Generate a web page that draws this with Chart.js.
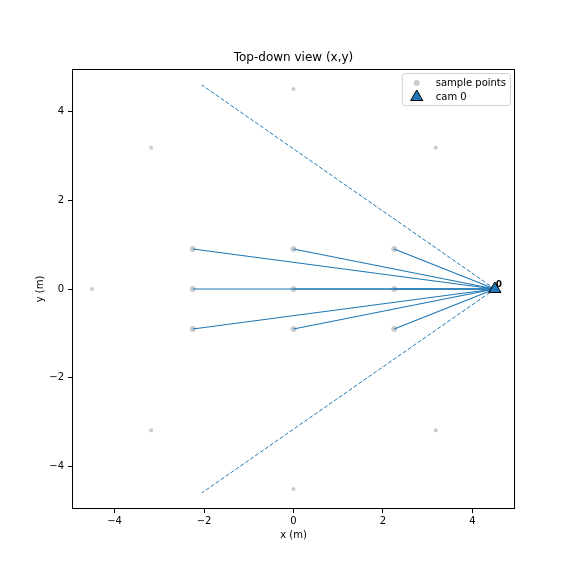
<!DOCTYPE html>
<html lang="en">
<head>
    <meta charset="UTF-8">
    <title>Top-down view (x,y)</title>
    <script src="https://cdn.jsdelivr.net/npm/chart.js"></script>
    <style>
        body { margin: 0; background: #ffffff; }
        canvas { display: block; }
    </style>
</head>
<body>
    <canvas id="topDown" width="573" height="573"></canvas>
    <script>
        // sample points: outer ring + inner grid
        const ringX = [4.5, 3.18, 0, -3.18, -4.5, -3.18, 0, 3.18];
        const ringY = [0, 3.18, 4.5, 3.18, 0, -3.18, -4.5, -3.18];
        const gridX = [-2.25, 0, 2.25, -2.25, 0, 2.25, -2.25, 0, 2.25];
        const gridY = [0.9, 0.9, 0.9, 0, 0, 0, -0.9, -0.9, -0.9];

        // camera and field of view edges
        const camX = [4.5];
        const camY = [0];
        const camLabels = ['0'];
        const fovEndX = [-2.05, -2.05];
        const fovEndY = [4.59, -4.59];

        const xTicks = [-4, -2, 0, 2, 4];
        const yTicks = [-4, -2, 0, 2, 4];

        const blue = '#1f77b4';
        const grey = '#cccccc';

        function fmt(v) {
            return v < 0 ? '\u2212' + Math.abs(v) : String(v);
        }

        const datasets = [];

        datasets.push({
            label: 'cam 0',
            data: camX.map((x, i) => ({x: x, y: camY[i]})),
            pointStyle: 'triangle',
            pointRadius: 7,
            backgroundColor: blue,
            borderColor: '#000',
            borderWidth: 1,
            showLine: false,
            order: 0
        });

        gridX.forEach((gx, i) => {
            datasets.push({
                label: 'ray',
                data: [{x: camX[0], y: camY[0]}, {x: gx, y: gridY[i]}],
                showLine: true,
                borderColor: blue,
                borderWidth: 1.1,
                pointRadius: 0,
                order: 1
            });
        });

        fovEndX.forEach((fx, i) => {
            datasets.push({
                label: 'fov',
                data: [{x: camX[0], y: camY[0]}, {x: fx, y: fovEndY[i]}],
                showLine: true,
                borderColor: blue,
                borderWidth: 1,
                borderDash: [4, 2],
                pointRadius: 0,
                order: 1
            });
        });

        datasets.push({
            label: 'sample points',
            data: gridX.map((x, i) => ({x: x, y: gridY[i]})),
            pointRadius: 3,
            backgroundColor: grey,
            borderWidth: 0,
            showLine: false,
            order: 2
        });
        datasets.push({
            label: 'ring',
            data: ringX.map((x, i) => ({x: x, y: ringY[i]})),
            pointRadius: 2,
            backgroundColor: grey,
            borderWidth: 0,
            showLine: false,
            order: 2
        });

        // frame round the plot, cam label and the boxed legend
        const extras = {
            id: 'extras',
            afterDatasetsDraw(chart) {
                const ctx = chart.ctx;
                const a = chart.chartArea;
                const xs = chart.scales.x, ys = chart.scales.y;
                ctx.save();
                ctx.strokeStyle = '#000';
                ctx.lineWidth = 1;
                ctx.strokeRect(a.left + 0.5, a.top + 0.5, a.right - a.left - 1, a.bottom - a.top - 1);

                ctx.fillStyle = '#000';
                ctx.font = 'bold 9px "DejaVu Sans"';
                ctx.textAlign = 'left';
                ctx.textBaseline = 'alphabetic';
                camLabels.forEach((t, i) => {
                    ctx.fillText(t, xs.getPixelForValue(camX[i] + 0.02), ys.getPixelForValue(camY[i] + 0.05));
                });

                // legend
                ctx.font = '10px "DejaVu Sans"';
                const labels = ['sample points', 'cam 0'];
                const tw = Math.max(...labels.map(l => ctx.measureText(l).width));
                const w = 34 + tw + 4;
                const h = 32;
                const x0 = a.right - 5 - w;
                const y0 = a.top + 4;
                ctx.beginPath();
                ctx.roundRect(x0 + 0.5, y0 + 0.5, w, h, 3);
                ctx.fillStyle = 'rgba(255,255,255,0.8)';
                ctx.fill();
                ctx.strokeStyle = '#d0d0d0';
                ctx.stroke();

                ctx.beginPath();
                ctx.arc(x0 + 15, y0 + 10, 3, 0, Math.PI * 2);
                ctx.fillStyle = grey;
                ctx.fill();

                ctx.fillStyle = blue;
                ctx.strokeStyle = '#000';
                ctx.beginPath();
                const r = 7, cx = x0 + 15, cy = y0 + 24;
                ctx.moveTo(cx, cy - r);
                ctx.lineTo(cx + r * 0.866, cy + r * 0.5);
                ctx.lineTo(cx - r * 0.866, cy + r * 0.5);
                ctx.closePath();
                ctx.fill();
                ctx.stroke();

                ctx.fillStyle = '#000';
                ctx.textBaseline = 'middle';
                ctx.fillText(labels[0], x0 + 34, y0 + 10);
                ctx.fillText(labels[1], x0 + 34, y0 + 24);
                ctx.restore();
            }
        };

        Chart.defaults.font.family = '"DejaVu Sans"';
        Chart.defaults.font.size = 10;
        Chart.defaults.color = '#000';

        new Chart(document.getElementById('topDown').getContext('2d'), {
            type: 'scatter',
            data: { datasets: datasets },
            options: {
                responsive: false,
                animation: false,
                layout: { padding: { left: 30, right: 58, top: 0, bottom: 30 } },
                plugins: {
                    legend: { display: false },
                    tooltip: { enabled: false },
                    title: {
                        display: true,
                        fullSize: false,
                        text: 'Top-down view (x,y)',
                        color: '#000',
                        font: { size: 12, weight: 'normal' },
                        padding: { top: 50.6, bottom: 4 }
                    }
                },
                scales: {
                    x: {
                        type: 'linear',
                        min: -4.95,
                        max: 4.95,
                        afterBuildTicks: (s) => { s.ticks = xTicks.map(v => ({value: v})); },
                        afterFit: (s) => { s.height = 34; },
                        ticks: { callback: fmt, padding: 2, maxRotation: 0, color: '#000' },
                        grid: { drawOnChartArea: false, drawTicks: true, tickLength: 4, color: '#000' },
                        border: { display: false },
                        title: { display: true, text: 'x (m)', color: '#000', padding: { top: 0, bottom: 2 } }
                    },
                    y: {
                        type: 'linear',
                        min: -4.95,
                        max: 4.95,
                        afterBuildTicks: (s) => { s.ticks = yTicks.map(v => ({value: v})); },
                        afterFit: (s) => { s.width = 42; },
                        ticks: { callback: fmt, padding: 4, color: '#000' },
                        grid: { drawOnChartArea: false, drawTicks: true, tickLength: 4, color: '#000' },
                        border: { display: false },
                        title: { display: true, text: 'y (m)', color: '#000', padding: { top: 4, bottom: 0 } }
                    }
                }
            },
            plugins: [extras]
        });
    </script>
</body>
</html>
